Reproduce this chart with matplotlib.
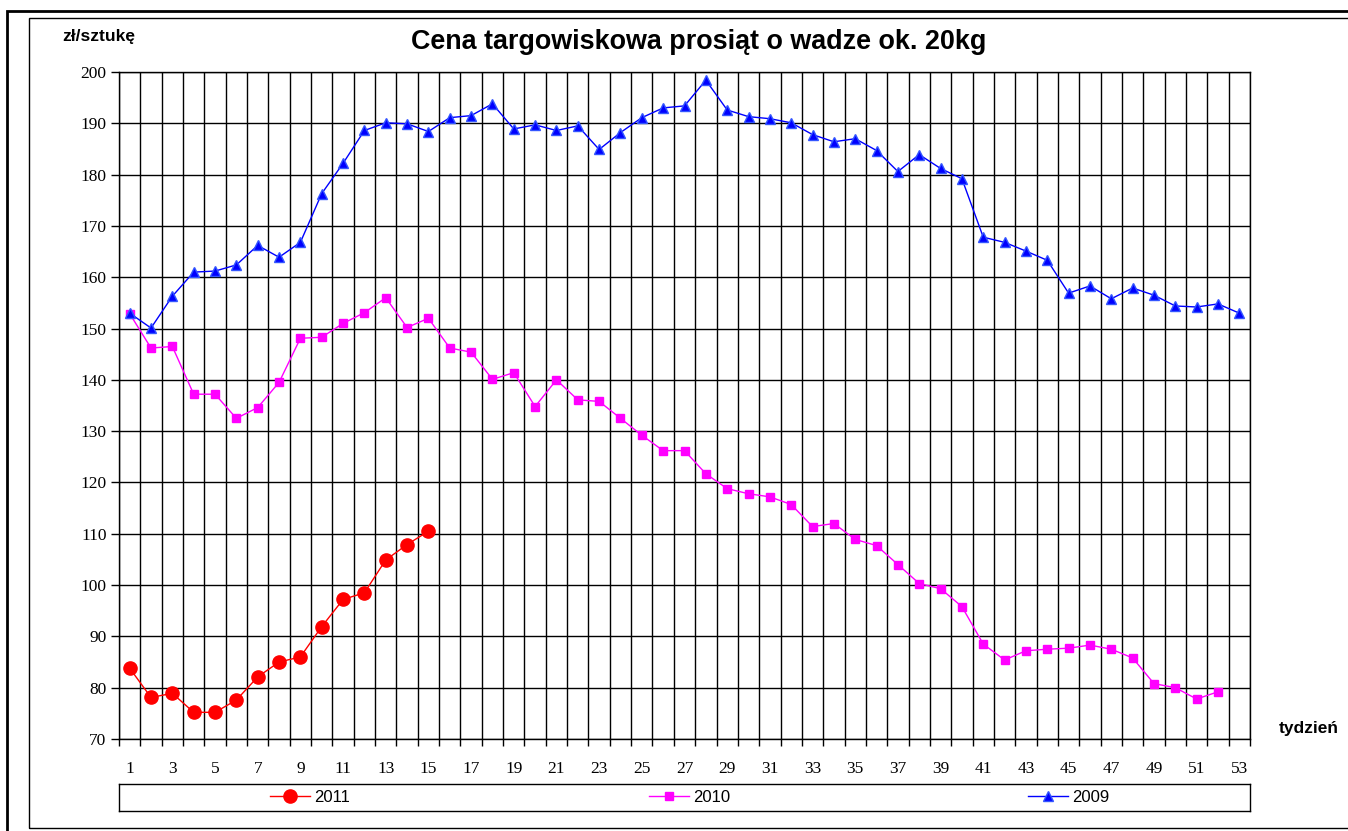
import numpy as np
from matplotlib import pyplot as plt
from matplotlib.patches import Rectangle

weeks = np.arange(1, 54)

price_2009 = [153.0, 150.1, 156.3, 161.0, 161.2, 162.4, 166.2, 163.9, 166.8, 176.3,
              182.2, 188.6, 190.1, 189.9, 188.4, 191.1, 191.5, 193.8, 188.9, 189.7,
              188.6, 189.5, 184.9, 188.2, 191.1, 193.0, 193.4, 198.4, 192.6, 191.3,
              190.9, 190.1, 187.8, 186.4, 187.0, 184.7, 180.6, 183.9, 181.2, 179.2,
              167.8, 166.8, 165.1, 163.3, 156.9, 158.3, 155.8, 157.9, 156.5, 154.4,
              154.2, 154.8, 153.0]

price_2010 = [152.9, 146.2, 146.5, 137.2, 137.2, 132.5, 134.6, 139.5, 148.1, 148.3,
              151.0, 153.1, 156.0, 150.2, 152.0, 146.2, 145.4, 140.1, 141.4, 134.8,
              140.0, 136.1, 135.8, 132.5, 129.2, 126.2, 126.2, 121.7, 118.8, 117.8,
              117.2, 115.7, 111.4, 112.0, 108.9, 107.7, 104.0, 100.3, 99.3, 95.8,
              88.5, 85.4, 87.2, 87.5, 87.7, 88.3, 87.5, 85.8, 80.8, 80.0,
              77.8, 79.2]

price_2011 = [83.8, 78.1, 78.9, 75.2, 75.2, 77.6, 82.1, 85.0, 86.0, 91.9,
              97.2, 98.5, 104.9, 107.9, 110.5]

series_labels = ['2011', '2010', '2009']
y_ticks = np.arange(70, 201, 10)
x_tick_labels = np.arange(1, 54, 2)

W, H = 1348, 831
fig = plt.figure(figsize=(W / 100, H / 100), dpi=100)

# frames around the whole chart
fig.add_artist(Rectangle((7 / W, -0.1), 1.2, 1 - 11 / H + 0.1, transform=fig.transFigure,
                         fill=False, edgecolor='black', linewidth=2))
fig.add_artist(Rectangle((29 / W, 1 - 828 / H), 1.2, (828 - 18) / H, transform=fig.transFigure,
                         fill=False, edgecolor='black', linewidth=1))

left, right, top, bottom = 119, 1250, 72, 739
ax = fig.add_axes([left / W, 1 - bottom / H, (right - left) / W, (bottom - top) / H])

ax.plot(weeks[:len(price_2011)], price_2011, color='#FF0000', marker='o', markersize=9.5,
        linewidth=1.0, label=series_labels[0])
ax.plot(weeks[:len(price_2010)], price_2010, color='#FF00FF', marker='s', markersize=6,
        linewidth=1.0, label=series_labels[1])
ax.plot(weeks, price_2009, color='#0000FF', marker='^', markersize=7.5,
        markeredgecolor='#3355FF', linewidth=1.0, label=series_labels[2])

ax.set_xlim(0.5, 53.5)
ax.set_ylim(70, 200)
ax.set_yticks(y_ticks)
ax.set_xticks(x_tick_labels)
ax.set_xticks(np.arange(0.5, 54, 1), minor=True)
ax.tick_params(axis='x', which='major', length=0, pad=16)
ax.tick_params(axis='x', which='minor', length=5, width=1, color='black', direction='out')
ax.tick_params(axis='y', which='major', length=6, width=1, color='black', pad=3)
for lab in ax.get_xticklabels() + ax.get_yticklabels():
    lab.set_fontfamily('Liberation Serif')
    lab.set_fontsize(12.5)
ax.grid(True, axis='x', which='minor', color='black', linewidth=1)
ax.grid(True, axis='y', which='major', color='black', linewidth=1)
ax.set_axisbelow(True)
for s in ax.spines.values():
    s.set_color('black')
    s.set_linewidth(1)

fig.text(0.5186, 1 - 42 / H, 'Cena targowiskowa prosiąt o wadze ok. 20kg',
         ha='center', va='center', fontsize=19.4, fontweight='bold', family='Liberation Sans')
fig.text(62 / W, 1 - 37 / H, 'zł/sztukę', ha='left', va='center', fontsize=12.5,
         fontweight='bold', family='Liberation Sans')
fig.text(1279 / W, 1 - 729 / H, 'tydzień', ha='left', va='center', fontsize=12.5,
         fontweight='bold', family='Liberation Sans')

# legend box
lax = fig.add_axes([left / W, 1 - 811 / H, (right - left) / W, 27 / H])
lax.set_xticks([])
lax.set_yticks([])
for s in lax.spines.values():
    s.set_color('black')
    s.set_linewidth(1)
handles, labels = ax.get_legend_handles_labels()
lax.legend(handles, labels, loc='center', ncol=3, frameon=False,
           prop={'family': 'Liberation Sans', 'size': 12},
           handlelength=2.4, handletextpad=0.25, columnspacing=17.9,
           bbox_to_anchor=(0.505, 0.5), borderaxespad=0)

plt.savefig('out.png', dpi=100)
